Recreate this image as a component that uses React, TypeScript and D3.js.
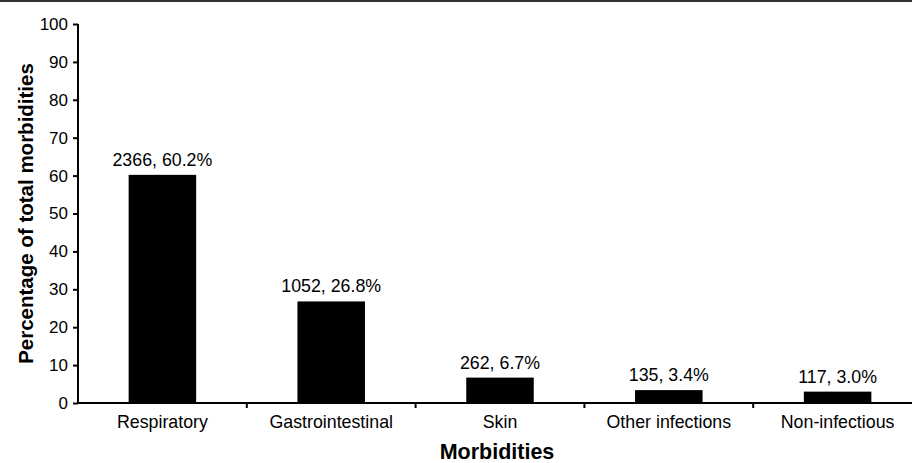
import * as React from 'react';
import * as d3 from 'd3';

const categories = ['Respiratory', 'Gastrointestinal', 'Skin', 'Other infections', 'Non-infectious'];
const counts = [2366, 1052, 262, 135, 117];
const percents = [60.2, 26.8, 6.7, 3.4, 3.0];
const yTicks = [0, 10, 20, 30, 40, 50, 60, 70, 80, 90, 100];

const App: React.FC = () => {
  const svgRef = React.useRef<SVGSVGElement | null>(null);
  const width = 912;
  const height = 463;
  const margin = { top: 24, right: -10, bottom: 60, left: 78 };

  const x = d3
    .scaleBand()
    .domain(categories)
    .range([margin.left, width - margin.right])
    .paddingInner(0.6)
    .paddingOuter(0.3);

  const y = d3
    .scaleLinear()
    .domain([0, 100])
    .range([height - margin.bottom, margin.top]);

  React.useEffect(() => {
    if (!svgRef.current) return;
    const svg = d3.select(svgRef.current);
    svg.selectAll('*').remove();
    const font = '"Liberation Sans", Arial, sans-serif';

    // top border
    svg.append('line')
      .attr('x1', 0).attr('x2', width)
      .attr('y1', 1).attr('y2', 1)
      .attr('stroke', '#333').attr('stroke-width', 2);

    // bars
    const data = categories.map((c, i) => ({ c, n: counts[i], p: percents[i] }));
    svg.append('g')
      .selectAll('rect')
      .data(data)
      .enter()
      .append('rect')
      .attr('x', (d) => x(d.c)!)
      .attr('width', x.bandwidth())
      .attr('y', (d) => y(d.p))
      .attr('height', (d) => y(0) - y(d.p))
      .attr('fill', '#000');

    svg.append('g')
      .selectAll('text')
      .data(data)
      .enter()
      .append('text')
      .attr('x', (d) => x(d.c)! + x.bandwidth() / 2)
      .attr('y', (d) => y(d.p) - 9)
      .attr('text-anchor', 'middle')
      .attr('font-family', font)
      .attr('font-size', 17.8)
      .attr('fill', '#000')
      .text((d) => `${d.n}, ${d.p.toFixed(1)}%`);

    // y axis
    const yAxis = d3.axisLeft(y).tickValues(yTicks).tickSize(5).tickPadding(5);
    const yg = svg.append('g')
      .attr('transform', `translate(${margin.left},0)`)
      .call(yAxis);
    yg.select('.domain').attr('stroke', '#000').attr('stroke-width', 2).attr('d', `M0,${y(100)}V${y(0)}`);
    yg.selectAll('.tick line').attr('stroke', '#000').attr('stroke-width', 2);
    yg.selectAll('.tick text')
      .attr('font-family', font)
      .attr('font-size', 17)
      .attr('fill', '#000');

    // x axis
    const step = x.step();
    const xAxis = d3.axisBottom(x).tickSize(0).tickPadding(12);
    const xg = svg.append('g')
      .attr('transform', `translate(0,${y(0)})`)
      .call(xAxis);
    xg.select('.domain').attr('stroke', '#000').attr('stroke-width', 2)
      .attr('d', `M${margin.left},0H${width + 20}`);
    xg.selectAll('.tick text')
      .attr('font-family', font)
      .attr('font-size', 17.8)
      .attr('fill', '#000');
    xg.append('g')
      .selectAll('line')
      .data(categories.slice(1))
      .enter()
      .append('line')
      .attr('x1', (d) => x(d)! - (step - x.bandwidth()) / 2)
      .attr('x2', (d) => x(d)! - (step - x.bandwidth()) / 2)
      .attr('y1', 0)
      .attr('y2', 5)
      .attr('stroke', '#000')
      .attr('stroke-width', 2);

    // axis titles
    svg.append('text')
      .attr('x', 497)
      .attr('y', 459)
      .attr('text-anchor', 'middle')
      .attr('font-family', font)
      .attr('font-size', 21.5)
      .attr('font-weight', 'bold')
      .text('Morbidities');

    svg.append('text')
      .attr('transform', `translate(33,${(y(0) + y(100)) / 2 + 0}) rotate(-90)`)
      .attr('text-anchor', 'middle')
      .attr('font-family', font)
      .attr('font-size', 20.5)
      .attr('font-weight', 'bold')
      .text('Percentage of total morbidities');
  }, []);

  return (
    <svg
      ref={svgRef}
      width={width}
      height={height}
      style={{ position: 'absolute', left: 0, top: 0, background: '#fff' }}
    />
  );
};

export default App;
